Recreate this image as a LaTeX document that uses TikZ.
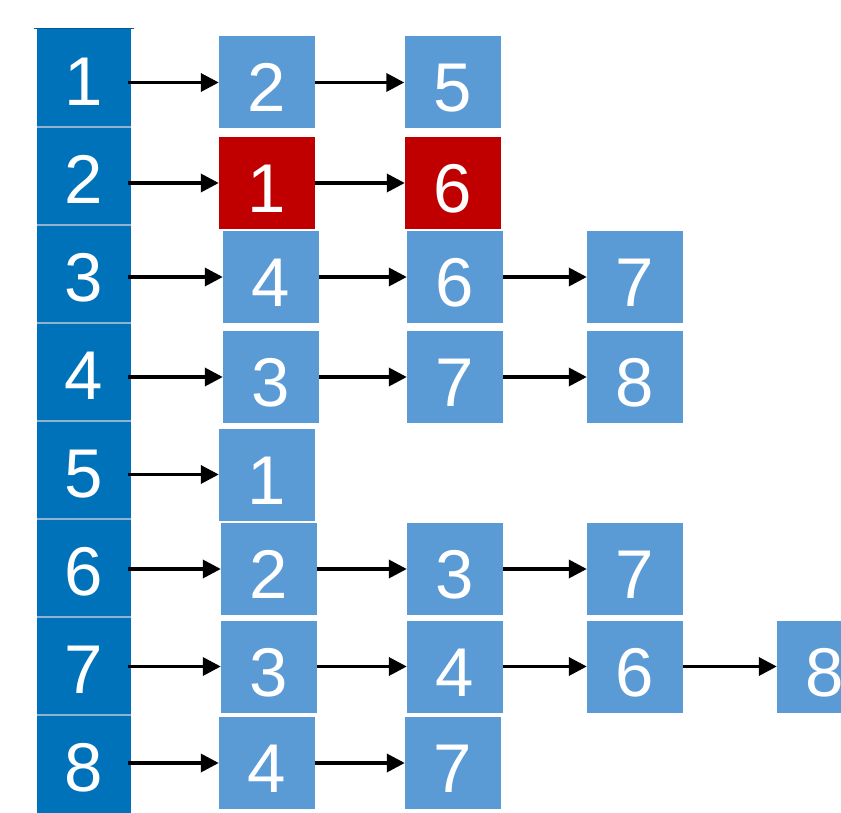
\documentclass[tikz,border=0pt]{standalone}
\usepackage{fontspec}
\setmainfont{Liberation Sans}
\usetikzlibrary{arrows.meta}
\definecolor{colblue}{HTML}{0072B9}
\definecolor{boxblue}{HTML}{5B9BD5}
\definecolor{boxred}{HTML}{C00000}
\definecolor{divline}{HTML}{8FB2CE}
\tikzset{
  cell/.style={fill=colblue, minimum width=94pt, minimum height=98pt, inner sep=0pt,
    text=white, font=\fontsize{69}{70}\selectfont, text height=55pt, text depth=0pt},
  vbox/.style={fill=boxblue, minimum width=96pt, minimum height=92pt, inner sep=0pt,
    text=white, font=\fontsize{69}{70}\selectfont, text height=59pt, text depth=0pt},
  rbox/.style={vbox, fill=boxred},
  arr/.style={line width=3.5pt, -{Triangle[length=18pt,width=18pt]}},
  divider/.style={divline, line width=1.5pt}
}
\begin{document}
\begin{tikzpicture}[x=1pt,y=-1pt]
\useasboundingbox (0,0) rectangle (841,813);
\clip (0,0) rectangle (841,813);
% adjacency column
\node[cell] (c1) at (84,78) {1};
\node[cell] (c2) at (84,176) {2};
\node[cell] (c3) at (84,274) {3};
\node[cell] (c4) at (84,372) {4};
\node[cell] (c5) at (84,470) {5};
\node[cell] (c6) at (84,568) {6};
\node[cell] (c7) at (84,666) {7};
\node[cell] (c8) at (84,764) {8};
\foreach \a/\b in {c1/c2,c2/c3,c3/c4,c4/c5,c5/c6,c6/c7,c7/c8}
  \draw[divider] (\a.south west) -- (\a.south east);
\draw[colblue!80!black, line width=0.8pt] ([xshift=-3pt]c1.north west) -- ([xshift=3pt]c1.north east);
% list nodes
\node[vbox] (b11) at (267,82.5) {2};
\node[vbox] (b12) at (452.5,82.5) {5};
\node[rbox] (b21) at (267,183) {1};
\node[rbox] (b22) at (453,183) {6};
\node[vbox] (b31) at (271,277) {4};
\node[vbox] (b32) at (455,277) {6};
\node[vbox] (b33) at (635,277) {7};
\node[vbox] (b41) at (271,377) {3};
\node[vbox] (b42) at (455,377) {7};
\node[vbox] (b43) at (635,377) {8};
\node[vbox] (b51) at (267,474.5) {1};
\node[vbox] (b61) at (269,569) {2};
\node[vbox] (b62) at (455,569) {3};
\node[vbox] (b63) at (635,569) {7};
\node[vbox] (b71) at (269,666.5) {3};
\node[vbox] (b72) at (455,666.5) {4};
\node[vbox] (b73) at (635,666.5) {6};
\node[vbox] (b74) at (825,666.5) {8};
\node[vbox] (b81) at (267,763) {4};
\node[vbox] (b82) at (453,763) {7};
% arrows from column
\foreach \c/\b in {c1/b11,c2/b21,c3/b31,c4/b41,c5/b51,c6/b61,c7/b71,c8/b81}
  \draw[arr] ([xshift=-3pt]\c.east |- \b) -- (\b.west);
% arrows between list nodes
\foreach \a/\b in {b11/b12,b21/b22,b31/b32,b32/b33,b41/b42,b42/b43,b61/b62,b62/b63,b71/b72,b72/b73,b73/b74,b81/b82}
  \draw[arr] (\a) -- (\b);
\end{tikzpicture}
\end{document}
